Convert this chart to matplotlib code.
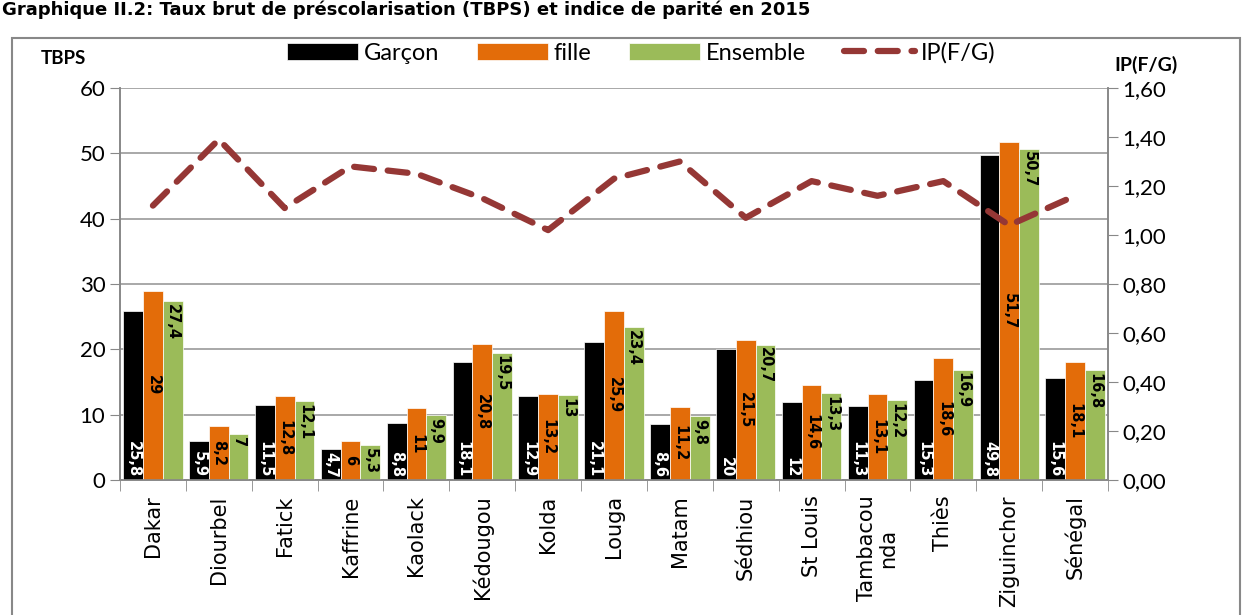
import matplotlib.pyplot as plt
import numpy as np
from matplotlib.patches import Rectangle
from matplotlib.ticker import FuncFormatter

regions = ["Dakar", "Diourbel", "Fatick", "Kaffrine", "Kaolack", "Kédougou", "Kolda",
           "Louga", "Matam", "Sédhiou", "St Louis", "Tambacou\nnda", "Thiès",
           "Ziguinchor", "Sénégal"]
garcon = [25.8, 5.9, 11.5, 4.7, 8.8, 18.1, 12.9, 21.1, 8.6, 20, 12, 11.3, 15.3, 49.8, 15.6]
fille = [29, 8.2, 12.8, 6, 11, 20.8, 13.2, 25.9, 11.2, 21.5, 14.6, 13.1, 18.6, 51.7, 18.1]
ensemble = [27.4, 7, 12.1, 5.3, 9.9, 19.5, 13, 23.4, 9.8, 20.7, 13.3, 12.2, 16.9, 50.7, 16.8]
ip = [1.12, 1.39, 1.11, 1.28, 1.25, 1.15, 1.02, 1.23, 1.30, 1.07, 1.22, 1.16, 1.22, 1.04, 1.16]

c_g, c_f, c_e, c_ip = "#000000", "#E36C09", "#9BBB59", "#953735"
plt.rcParams["font.family"] = ["DejaVu Sans"]
narrow = ["Lato", "DejaVu Sans"]
wide = ["DejaVu Sans"]

fig = plt.figure(figsize=(12.48, 6.15), dpi=100)
ax = fig.add_axes([120 / 1248, 1 - 480 / 615, (1108 - 120) / 1248, (480 - 88) / 615])
ax2 = ax.twinx()

x = np.arange(len(regions))
w = 0.3
ax.bar(x - w, garcon, w, color=c_g, edgecolor="white", linewidth=0.5, label="Garçon", zorder=3)
ax.bar(x, fille, w, color=c_f, edgecolor="white", linewidth=0.5, label="fille", zorder=3)
ax.bar(x + w, ensemble, w, color=c_e, edgecolor="white", linewidth=0.5, label="Ensemble", zorder=3)

def fmt(v):
    return ("%g" % v).replace(".", ",")

# etiquettes : garçon en bas, fille au milieu, ensemble en haut
lab_kw = dict(rotation=270, ha="center", fontsize=10.5, fontweight="bold", family=wide, zorder=5)
for i in range(len(regions)):
    ax.text(x[i] - w, 0.4, fmt(garcon[i]), va="bottom", color="white", **lab_kw)
    ax.text(x[i], fille[i] / 2, fmt(fille[i]), va="center", color="black", **lab_kw)
    ax.text(x[i] + w, ensemble[i] - 0.4, fmt(ensemble[i]), va="top", color="black", **lab_kw)

ax2.plot(x, ip, color=c_ip, lw=4.5, dashes=(3.2, 2.2), dash_capstyle="round",
         label="IP(F/G)", zorder=4)

ax.set_xlim(-0.5, len(regions) - 0.5)
ax.set_ylim(0, 60)
ax.set_yticks(range(0, 61, 10))
ax2.set_ylim(0, 1.6)
ax2.set_yticks(np.arange(0, 1.61, 0.2))
ax2.yaxis.set_major_formatter(FuncFormatter(lambda v, p: ("%.2f" % v).replace(".", ",")))

ax.set_xticks(x)
ax.set_xticklabels(regions, rotation=90, fontsize=15, va="top", linespacing=1.05, family=wide)
ax.set_xticks(np.arange(-0.5, len(regions), 1), minor=True)
ax.tick_params(axis="x", which="major", length=0, pad=11)
ax.tick_params(axis="x", which="minor", length=8, color="#888888")
ax.tick_params(axis="y", labelsize=16, length=7, color="#888888")
ax2.tick_params(axis="y", labelsize=16, length=7, color="#888888")
ax.set_yticklabels([str(v) for v in range(0, 61, 10)], family=narrow)
ax2.set_yticklabels([("%.2f" % v).replace(".", ",") for v in np.arange(0, 1.61, 0.2)], family=narrow)

ax.grid(axis="y", color="#999999", lw=1.2, zorder=0)
ax.set_axisbelow(True)
for a in (ax, ax2):
    for s in a.spines.values():
        s.set_color("#888888")
        s.set_linewidth(1.2)
    a.spines["top"].set_visible(False)

fig.text(63 / 1248, 1 - 58 / 615, "TBPS", fontsize=13.5, fontweight="bold", family=narrow,
         ha="center", va="center")
fig.text(1146 / 1248, 1 - 65 / 615, "IP(F/G)", fontsize=14, fontweight="bold", family=narrow,
         ha="center", va="center")

h1, l1 = ax.get_legend_handles_labels()
h2, l2 = ax2.get_legend_handles_labels()
fig.legend(h1 + h2, l1 + l2, loc="center", bbox_to_anchor=(641 / 1248, 1 - 53 / 615), ncol=4,
           frameon=False, prop={"family": narrow, "size": 17}, handlelength=3.0,
           handleheight=0.7, columnspacing=1.6, handletextpad=0.25)

fig.text(0.002, 0.999, "Graphique II.2: Taux brut de préscolarisation (TBPS) et indice de parité en 2015",
         fontsize=13, fontweight="bold", family=wide, ha="left", va="top")
fig.patches.append(Rectangle((12 / 1248, -0.1), (1240 - 12) / 1248, 0.1 + 1 - 38 / 615,
                             transform=fig.transFigure, fill=False, edgecolor="#888888", lw=1.5))

fig.savefig("out.png", dpi=100)
